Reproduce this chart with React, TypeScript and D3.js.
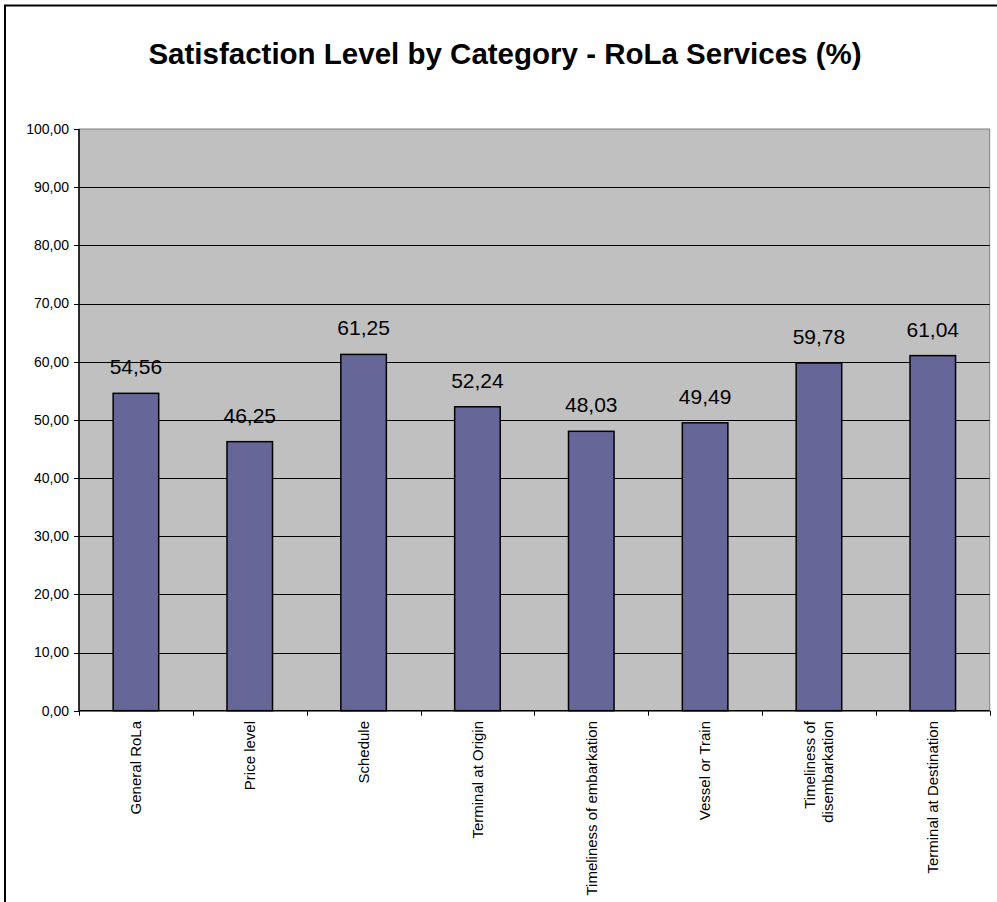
import React from "react";
import * as d3 from "d3";

const categories = [
  "General RoLa",
  "Price level",
  "Schedule",
  "Terminal at Origin",
  "Timeliness of embarkation",
  "Vessel or Train",
  "Timeliness of\ndisembarkation",
  "Terminal at Destination",
];
const values = [54.56, 46.25, 61.25, 52.24, 48.03, 49.49, 59.78, 61.04];
const yTicks = [0, 10, 20, 30, 40, 50, 60, 70, 80, 90, 100];
const title = "Satisfaction Level by Category - RoLa Services (%)";

const W = 997;
const H = 902;
const plot = { left: 79, right: 989.7, top: 129, bottom: 710.7 };
const FONT = "'Liberation Sans', Arial, sans-serif";
const fmt = (v: number) => v.toFixed(2).replace(".", ",");

export default function App() {
  const x = d3
    .scaleBand<string>()
    .domain(categories)
    .range([plot.left, plot.right])
    .paddingInner(0.6)
    .paddingOuter(0.3);
  const y = d3.scaleLinear().domain([0, 100]).range([plot.bottom, plot.top]);
  const step = x.step();
  const boundaries = d3.range(categories.length + 1).map((i) => plot.left + i * step);

  return (
    <svg
      width={W}
      height={H}
      style={{ position: "absolute", left: 0, top: 0, background: "#fff" }}
      fontFamily={FONT}
    >
      <rect x={0} y={0} width={W} height={H} fill="#fff" />
      <rect x={5} y={5.5} width={1000} height={1000} fill="none" stroke="#000" strokeWidth={2} />
      <text
        x={505}
        y={64}
        textAnchor="middle"
        fontSize={29.5}
        fontWeight="bold"
        fill="#000"
      >
        {title}
      </text>

      {/* plot area */}
      <rect
        x={plot.left}
        y={plot.top}
        width={plot.right - plot.left}
        height={plot.bottom - plot.top}
        fill="#C0C0C0"
        stroke="#808080"
        strokeWidth={1}
      />
      {yTicks.slice(1, -1).map((t) => (
        <line
          key={"g" + t}
          x1={plot.left}
          x2={plot.right}
          y1={Math.round(y(t)) + 0.5}
          y2={Math.round(y(t)) + 0.5}
          stroke="#000"
          strokeWidth={1}
        />
      ))}

      {/* bars */}
      {categories.map((c, i) => (
        <rect
          key={"b" + i}
          x={x(c)!}
          y={y(values[i])}
          width={x.bandwidth()}
          height={y(0) - y(values[i])}
          fill="#666699"
          stroke="#000"
          strokeWidth={1.5}
        />
      ))}

      {/* axes */}
      <line x1={plot.left} x2={plot.left} y1={plot.top} y2={plot.bottom} stroke="#000" strokeWidth={1.5} />
      <line x1={plot.left} x2={plot.right} y1={plot.bottom} y2={plot.bottom} stroke="#000" strokeWidth={1.5} />
      {yTicks.map((t) => (
        <g key={"yt" + t}>
          <line
            x1={plot.left - 5}
            x2={plot.left}
            y1={Math.round(y(t)) + 0.5}
            y2={Math.round(y(t)) + 0.5}
            stroke="#000"
          />
          <text x={69} y={y(t)} dy="0.35em" textAnchor="end" fontSize={14} fill="#000">
            {fmt(t)}
          </text>
        </g>
      ))}
      {boundaries.map((bx, i) => (
        <line
          key={"xt" + i}
          x1={Math.round(bx) + 0.5}
          x2={Math.round(bx) + 0.5}
          y1={plot.bottom}
          y2={plot.bottom + 5}
          stroke="#000"
        />
      ))}

      {/* value labels */}
      {categories.map((c, i) => (
        <text
          key={"v" + i}
          x={x(c)! + x.bandwidth() / 2}
          y={y(values[i]) - 19}
          textAnchor="middle"
          fontSize={21}
          fill="#000"
        >
          {fmt(values[i])}
        </text>
      ))}

      {/* category labels */}
      {categories.map((c, i) => {
        const lines = c.split("\n");
        const cx = x(c)! + x.bandwidth() / 2;
        return (
          <g key={"c" + i} transform={`translate(${cx},721) rotate(-90)`}>
            {lines.map((ln, j) => (
              <text
                key={j}
                x={0}
                y={(j - (lines.length - 1) / 2) * 17.7}
                dy="0.35em"
                textAnchor="end"
                fontSize={15}
                fill="#000"
              >
                {ln}
              </text>
            ))}
          </g>
        );
      })}
    </svg>
  );
}
